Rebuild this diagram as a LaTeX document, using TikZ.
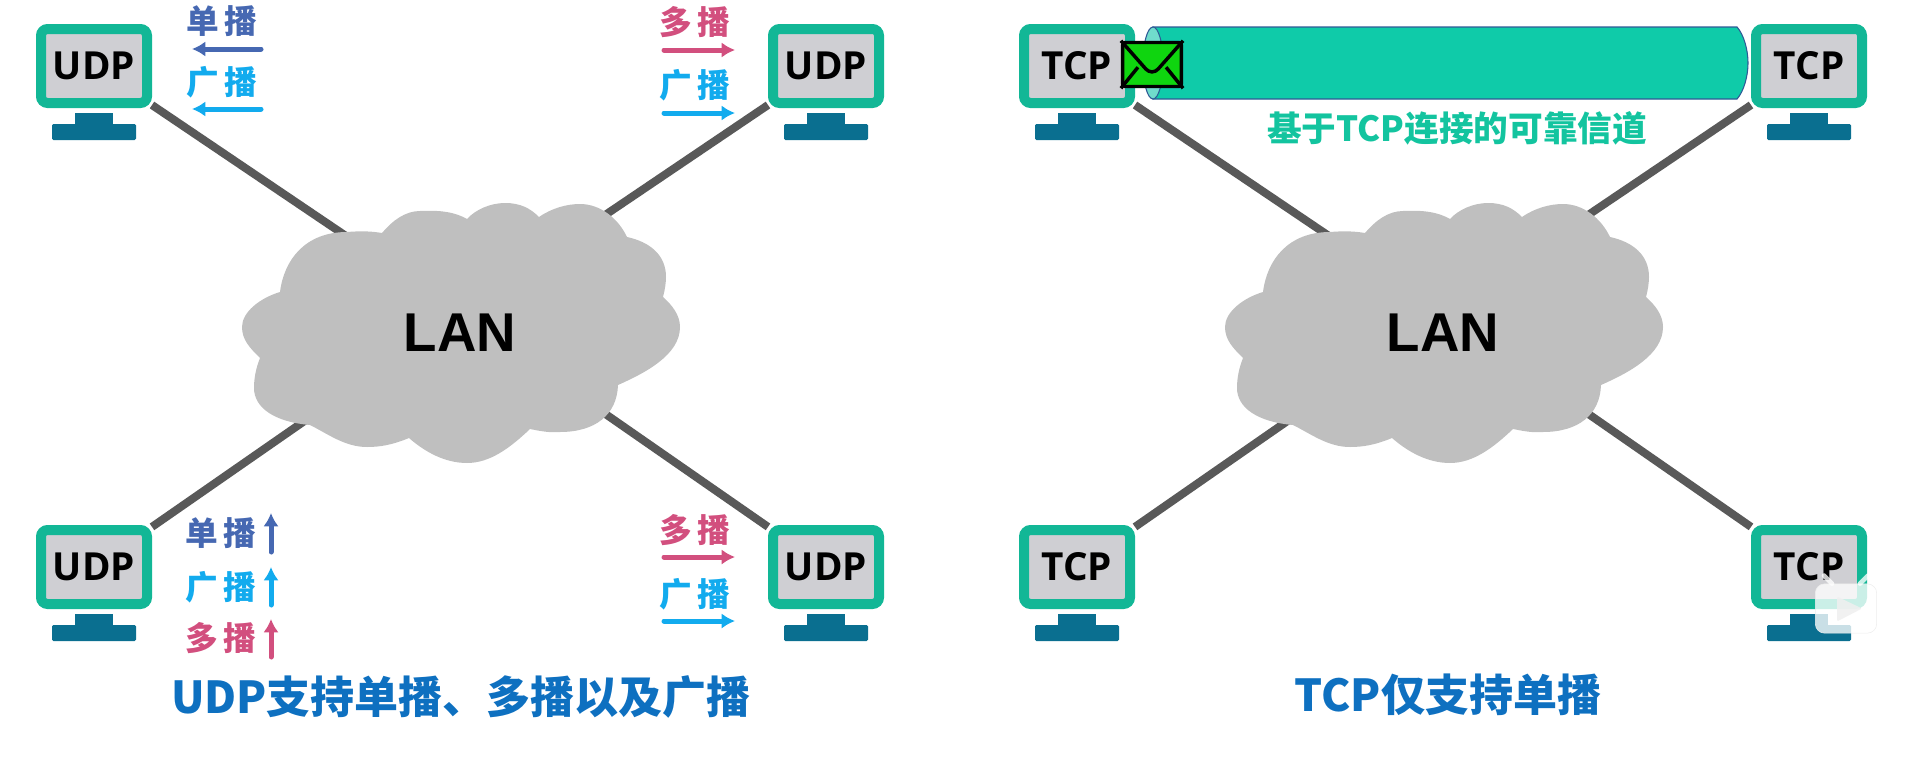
\documentclass[tikz,border=0pt]{standalone}
\usepackage{fontspec}
\usepackage{xcolor}
\usepackage{tikz}
\usetikzlibrary{arrows.meta,positioning,calc,backgrounds}
\setmainfont{Open Sans}
\newfontfamily\lanfont{Liberation Sans}
\newfontfamily\cjk{Noto Sans CJK SC}
\definecolor{screenrim}{HTML}{12B796}
\definecolor{screenfill}{HTML}{CFCFD3}
\definecolor{standblue}{HTML}{0A6F90}
\definecolor{wiregray}{HTML}{595959}
\definecolor{cloudgray}{HTML}{BFBFBF}
\definecolor{unicastc}{HTML}{4668B2}
\definecolor{broadcastc}{HTML}{12ABEE}
\definecolor{multicastc}{HTML}{D24F7E}
\definecolor{tubefill}{HTML}{0FCBA9}
\definecolor{tubeend}{HTML}{70DCCC}
\definecolor{tubeline}{HTML}{2E5A96}
\definecolor{mailgreen}{HTML}{0FD50F}
\definecolor{capblue}{HTML}{0E70C0}
\definecolor{chantext}{HTML}{13C49F}
\begin{document}
\begin{tikzpicture}[
 x=0.75pt,y=-0.75pt,
 screen/.style={draw=screenrim,fill=screenfill,line width=7.5pt,rounded corners=5pt,
                minimum width=79.5pt,minimum height=55.5pt,inner sep=0pt,
                font=\bfseries\fontsize{29}{30}\selectfont},
 neck/.style={fill=standblue,minimum width=28.5pt,minimum height=8.25pt,inner sep=0pt,outer sep=0pt},
 foot/.style={fill=standblue,rounded corners=1pt,minimum width=63pt,minimum height=12pt,inner sep=0pt,outer sep=0pt},
 wire/.style={draw=wiregray,line width=6pt},
 castlabel/.style={font=\cjk\bfseries\fontsize{24.5}{26}\selectfont,inner sep=0pt},
 cast/.style={-{Latex[length=10pt,width=11.5pt]},line width=3.75pt,line cap=round},
 caption/.style={font=\cjk\bfseries\fontsize{33}{35}\selectfont,text=capblue,inner sep=0pt},
 lantext/.style={font=\lanfont\bfseries\fontsize{41}{42}\selectfont,inner sep=0pt},
 lancloud/.pic={
  \fill[cloudgray] (22,137)
   .. controls (22,122) and (40,108) .. (60,102)
   .. controls (64,70) and (85,42) .. (127,42) .. controls (140,41) and (150,41) .. (162,43)
   .. controls (172,31) and (185,21) .. (200,21) .. controls (220,20) and (235,22) .. (247,29)
   .. controls (255,20) and (270,13) .. (285,13) .. controls (300,13) and (310,18) .. (319,27)
   .. controls (332,18) and (347,14) .. (360,14) .. controls (380,14) and (398,28) .. (407,47)
   .. controls (430,52) and (446,65) .. (446,87) .. controls (446,92) and (445,100) .. (443,107)
   .. controls (452,115) and (460,125) .. (460,137) .. controls (460,165) and (425,183) .. (398,195)
   .. controls (397,225) and (375,242) .. (340,242) .. controls (330,243) and (320,241) .. (310,239)
   .. controls (290,258) and (270,273) .. (247,273) .. controls (225,273) and (205,262) .. (189,248)
   .. controls (172,255) and (160,257) .. (147,257) .. controls (125,257) and (108,244) .. (90,235)
   .. controls (55,232) and (34,218) .. (34,198) .. controls (34,188) and (36,178) .. (40,168)
   .. controls (30,158) and (22,150) .. (22,137) -- cycle;
 }]
\useasboundingbox (0,0) rectangle (1920,760);
% clouds
\pic at (220,190) {lancloud};
\pic at (1203,190) {lancloud};
\node[lantext] (lanudp) at (460,333) {LAN};
\node[lantext] (lantcp) at (1443,333) {LAN};
\coordinate (hubudp) at (460,313);
\coordinate (hubtcp) at (1443,313);
% hosts
\foreach \hostname/\hx/\hy/\hubname/\proto in {
  udpa/94/66/hubudp/UDP, udpb/826/66/hubudp/UDP, udpc/94/567/hubudp/UDP, udpd/826/567/hubudp/UDP,
  tcpa/1077/66/hubtcp/TCP, tcpb/1809/66/hubtcp/TCP, tcpc/1077/567/hubtcp/TCP, tcpd/1809/567/hubtcp/TCP}{
 \node[screen] (\hostname) at (\hx,\hy) {\proto};
 \node[neck,below=3.75pt of \hostname] (\hostname neck) {};
 \node[foot,below=0pt of \hostname neck] (\hostname foot) {};
 \begin{pgfonlayer}{background}
  \draw[wire] (\hostname) -- (\hubname);
 \end{pgfonlayer}
}
% cast labels and arrows
\foreach \castname/\txt/\col/\lx/\ly/\ax/\ay/\bx/\by in {
  ua/单\,播/unicastc/222/21/261/49/192/49,
  ba/广\,播/broadcastc/222/82/261/109/192/109,
  mb/多\,播/multicastc/695/22/664/50/735/50,
  bb/广\,播/broadcastc/695/85/664/113/735/113,
  uc/单\,播/unicastc/221/533/271/552/271/513,
  bc/广\,播/broadcastc/221/587/271/605/271/567,
  mc/多\,播/multicastc/221/638/271/657/271/619,
  md/多\,播/multicastc/695/530/664/557/735/557,
  bd/广\,播/broadcastc/695/594/664/621/735/621}{
 \node[castlabel,text=\col] (\castname) at (\lx,\ly) {\txt};
 \coordinate (\castname tail) at (\ax,\ay);
 \coordinate (\castname head) at (\bx,\by);
 \draw[cast,draw=\col] (\castname tail) -- (\castname head);
}
% channel
\draw[draw=tubeline,fill=tubefill,line width=0.8pt] (1153,27) -- (1737,27)
 .. controls (1744,35) and (1748,50) .. (1748,63) .. controls (1748,76) and (1744,91) .. (1737,99)
 -- (1153,99) -- cycle;
\draw[draw=tubeline,fill=tubeend,line width=0.8pt] (1153,63) ellipse [x radius=10,y radius=36];
\node[rounded corners=2pt,draw=black,fill=mailgreen,line width=2.6pt,minimum width=44pt,
      minimum height=33pt,inner sep=0pt] (mail) at (1152,64.5) {};
\draw[line width=2.6pt,line join=round,rounded corners=7pt] (mail.north west) -- (1152,76) -- (mail.north east);
\draw[line width=2.6pt] (mail.south west) -- ($(mail.south west)+(17,-21)$);
\draw[line width=2.6pt] (mail.south east) -- ($(mail.south east)+(-17,-21)$);
\node[font=\cjk\bfseries\fontsize{26}{28}\selectfont,text=chantext,inner sep=0pt] (channel) at (1457,128)
 {基于TCP连接的可靠信道};
% captions
\node[caption] (capudp) at (461,697) {UDP支持单播、多播以及广播};
\node[caption] (captcp) at (1448,695) {TCP仅支持单播};
% player mark
\node[fill=white,fill opacity=0.78,draw=black!7,rounded corners=7pt,minimum width=46pt,minimum height=37pt,
      inner sep=0pt] (tvmark) at (1846,608.5) {};
\draw[white,opacity=0.78,line width=3.5pt,line cap=round]
 ($(tvmark.north)+(-14,0)$) -- ($(tvmark.north)+(-22,-8)$)
 ($(tvmark.north)+(14,0)$) -- ($(tvmark.north)+(22,-8)$);
\fill[black!6,opacity=0.85,rounded corners=1pt] ($(tvmark.center)+(-9,-12)$) -- ($(tvmark.center)+(16,0)$)
 -- ($(tvmark.center)+(-9,13)$) -- cycle;
\end{tikzpicture}
\end{document}
